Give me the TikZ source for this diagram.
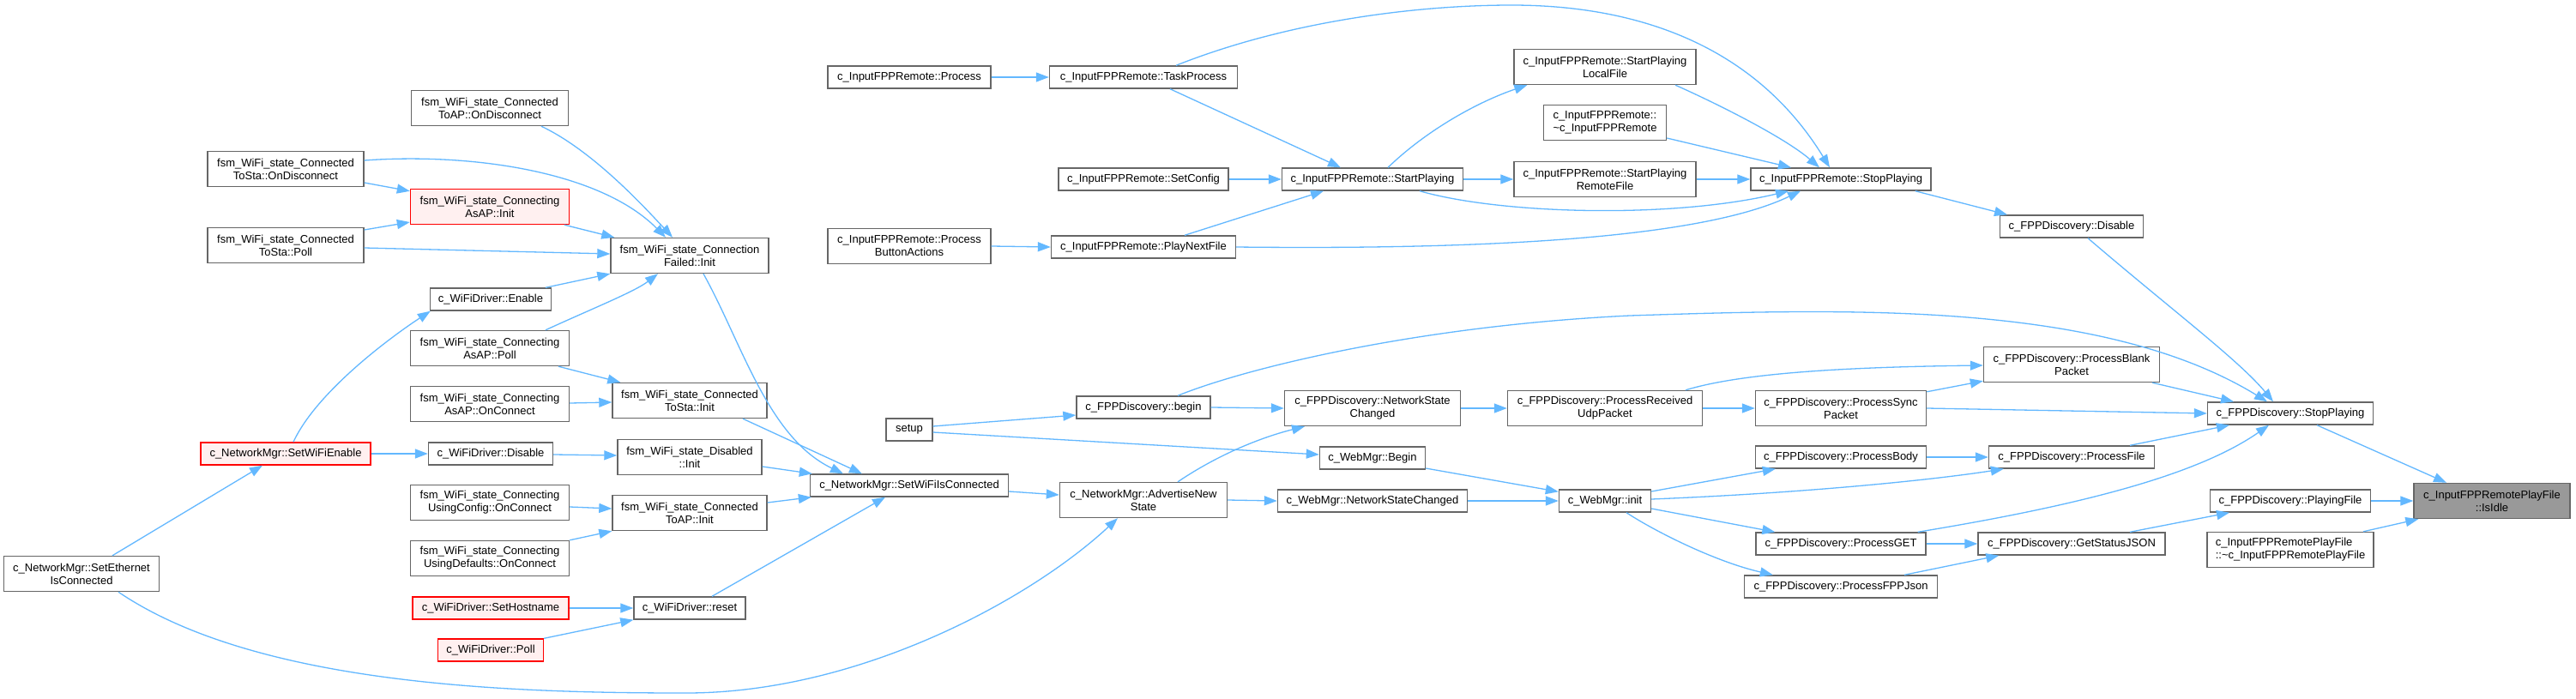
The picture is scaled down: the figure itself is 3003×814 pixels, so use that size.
\documentclass[tikz,border=0pt]{standalone}
\usepackage{fontspec}
\setmainfont{Liberation Sans}
\usetikzlibrary{arrows.meta,calc}
\definecolor{edgeblue}{HTML}{63B8FF}
\definecolor{boxgray}{HTML}{666666}
\definecolor{redfill}{HTML}{FFF0F0}
\definecolor{rootfill}{HTML}{999999}
\begin{document}
\begin{tikzpicture}[x=1pt,y=-1pt,
  fn/.style={draw=boxgray, fill=white, line width=1.4pt, align=center, inner xsep=3pt, inner ysep=0pt, font=\fontsize{13}{15}\selectfont, minimum height=26pt},
  two/.style={minimum height=41pt},
  redfn/.style={draw=red, fill=redfill},
  rootfn/.style={fill=rootfill},
  call/.style={draw=edgeblue, line width=1.3pt, -{Triangle[length=15pt,width=11pt]}},
]
\useasboundingbox[fill=white] (0,0) rectangle (3003,814);
% nodes
\node[fn,two,minimum width=181pt] (SetEth) at (95,669) {c\_NetworkMgr::SetEthernet\\IsConnected};
\node[fn,two,minimum width=182pt] (TSOD) at (333,197) {fsm\_WiFi\_state\_Connected\\ToSta::OnDisconnect};
\node[fn,two,minimum width=182pt] (TSPoll) at (333,286) {fsm\_WiFi\_state\_Connected\\ToSta::Poll};
\node[fn,redfn,minimum width=198pt] (SWE) at (333,529) {c\_NetworkMgr::SetWiFiEnable};
\node[fn,two,minimum width=183pt] (TAOD) at (571,126) {fsm\_WiFi\_state\_Connected\\ToAP::OnDisconnect};
\node[fn,two,redfn,minimum width=185pt] (AAInit) at (571,241) {fsm\_WiFi\_state\_Connecting\\AsAP::Init};
\node[fn,minimum width=141pt] (Enable) at (572,349) {c\_WiFiDriver::Enable};
\node[fn,two,minimum width=185pt] (AAPoll) at (571,406) {fsm\_WiFi\_state\_Connecting\\AsAP::Poll};
\node[fn,two,minimum width=185pt] (AAOnConn) at (571,471) {fsm\_WiFi\_state\_Connecting\\AsAP::OnConnect};
\node[fn,minimum width=145pt] (WDDisable) at (572,529) {c\_WiFiDriver::Disable};
\node[fn,two,minimum width=185pt] (UCOnConn) at (571,586) {fsm\_WiFi\_state\_Connecting\\UsingConfig::OnConnect};
\node[fn,two,minimum width=185pt] (UDOnConn) at (571,651) {fsm\_WiFi\_state\_Connecting\\UsingDefaults::OnConnect};
\node[fn,redfn,minimum width=182pt] (SetHost) at (572,709) {c\_WiFiDriver::SetHostname};
\node[fn,redfn,minimum width=123pt] (WDPoll) at (572,758) {c\_WiFiDriver::Poll};
\node[fn,two,minimum width=184pt] (CFInit) at (804,298) {fsm\_WiFi\_state\_Connection\\Failed::Init};
\node[fn,two,minimum width=180pt] (TSInit) at (804,467) {fsm\_WiFi\_state\_Connected\\ToSta::Init};
\node[fn,two,minimum width=168pt] (DisInit) at (804,533) {fsm\_WiFi\_state\_Disabled\\::Init};
\node[fn,two,minimum width=180pt] (TAInit) at (804,598) {fsm\_WiFi\_state\_Connected\\ToAP::Init};
\node[fn,minimum width=130pt] (reset) at (804,709) {c\_WiFiDriver::reset};
\node[fn,minimum width=190pt] (Process) at (1060,90) {c\_InputFPPRemote::Process};
\node[fn,two,minimum width=190pt] (PBA) at (1060,287) {c\_InputFPPRemote::Process\\ButtonActions};
\node[fn,minimum width=54pt] (setup) at (1060,501) {setup};
\node[fn,minimum width=231pt] (SWIC) at (1060,566) {c\_NetworkMgr::SetWiFiIsConnected};
\node[fn,minimum width=219pt] (TaskProc) at (1333,90) {c\_InputFPPRemote::TaskProcess};
\node[fn,minimum width=198pt] (SetConfig) at (1333,209) {c\_InputFPPRemote::SetConfig};
\node[fn,minimum width=215pt] (PlayNext) at (1333,288) {c\_InputFPPRemote::PlayNextFile};
\node[fn,minimum width=156pt] (begin) at (1333,475) {c\_FPPDiscovery::begin};
\node[fn,two,minimum width=195pt] (AdvNew) at (1333,583) {c\_NetworkMgr::AdvertiseNew\\State};
\node[fn,minimum width=211pt] (StartPl) at (1600,209) {c\_InputFPPRemote::StartPlaying};
\node[fn,two,minimum width=205pt] (NSC) at (1600,476) {c\_FPPDiscovery::NetworkState\\Changed};
\node[fn,minimum width=123pt] (WMBegin) at (1600,534) {c\_WebMgr::Begin};
\node[fn,minimum width=221pt] (WMNSC) at (1600,584) {c\_WebMgr::NetworkStateChanged};
\node[fn,two,minimum width=212pt] (LocalF) at (1871,78) {c\_InputFPPRemote::StartPlaying\\LocalFile};
\node[fn,two,align=left,minimum width=143pt] (DtorIFR) at (1871,143) {c\_InputFPPRemote::\\\textasciitilde c\_InputFPPRemote};
\node[fn,two,minimum width=212pt] (RemoteF) at (1871,209) {c\_InputFPPRemote::StartPlaying\\RemoteFile};
\node[fn,two,minimum width=227pt] (PRUP) at (1871,476) {c\_FPPDiscovery::ProcessReceived\\UdpPacket};
\node[fn,minimum width=107pt] (init) at (1871,584) {c\_WebMgr::init};
\node[fn,minimum width=210pt] (IFRStop) at (2146,209) {c\_InputFPPRemote::StopPlaying};
\node[fn,two,minimum width=199pt] (PSync) at (2146,476) {c\_FPPDiscovery::ProcessSync\\Packet};
\node[fn,minimum width=199pt] (PBody) at (2146,533) {c\_FPPDiscovery::ProcessBody};
\node[fn,minimum width=198pt] (PGET) at (2146,634) {c\_FPPDiscovery::ProcessGET};
\node[fn,minimum width=225pt] (PJson) at (2146,684) {c\_FPPDiscovery::ProcessFPPJson};
\node[fn,minimum width=167pt] (FDisable) at (2415,264) {c\_FPPDiscovery::Disable};
\node[fn,two,minimum width=205pt] (PBlank) at (2415,425) {c\_FPPDiscovery::ProcessBlank\\Packet};
\node[fn,minimum width=193pt] (PFile) at (2415,533) {c\_FPPDiscovery::ProcessFile};
\node[fn,minimum width=218pt] (GSJ) at (2415,634) {c\_FPPDiscovery::GetStatusJSON};
\node[fn,minimum width=193pt] (FStop) at (2670,482) {c\_FPPDiscovery::StopPlaying};
\node[fn,minimum width=187pt] (PlayingF) at (2670,584) {c\_FPPDiscovery::PlayingFile};
\node[fn,two,align=left,minimum width=194pt] (DtorPF) at (2670,641) {c\_InputFPPRemotePlayFile\\::\textasciitilde c\_InputFPPRemotePlayFile};
\node[fn,two,rootfn,minimum width=182pt] (IsIdle) at (2905,584) {c\_InputFPPRemotePlayFile\\::IsIdle};
% edges
\draw[call] ($(FStop.south)+(31,0)$) -- ($(IsIdle.north)+(-53,0)$);
\draw[call] (PlayingF.east) -- (IsIdle.west);
\draw[call] ($(DtorPF.north)+(85,0)$) -- ($(IsIdle.south west)+(6,0)$);
\draw[call] ($(GSJ.north)+(68,0)$) -- ($(PlayingF.south)+(-71,0)$);
\draw[call] ($(PBlank.south)+(94,0)$) -- ($(FStop.north)+(-66,0)$);
\draw[call] (PSync.east) -- (FStop.west);
\draw[call] ($(PFile.north)+(68,0)$) -- ($(FStop.south)+(-71,0)$);
\draw[call] ($(PGET.north east)+(-10,0)$) .. controls (2420,590) and (2560,555) .. ($(FStop.south)+(-25,0)$);
\draw[call] ($(IFRStop.south east)+(-19,0)$) -- ($(FDisable.north)+(-75,0)$);
\draw[call] ($(begin.north)+(40,0)$) .. controls (1450,430) and (1650,380) .. (1900,368) .. controls (2150,360) and (2450,350) .. ($(FStop.north)+(-27,0)$);
\draw[call] ($(FDisable.south)+(19,0)$) .. controls (2530,360) and (2610,420) .. ($(FStop.north)+(-20,0)$);
\draw[call] (begin.east) -- (NSC.west);
\draw[call] ($(setup.east)+(0,-4)$) -- ($(begin.west)+(0,9)$);
\draw[call] ($(setup.east)+(0,3)$) -- ($(WMBegin.west)+(0,-4)$);
\draw[call] ($(AdvNew.north)+(40,0)$) .. controls (1420,530) and (1470,510) .. ($(NSC.south)+(-79,0)$);
\draw[call] (AdvNew.east) -- (WMNSC.west);
\draw[call] ($(SWIC.east)+(0,7)$) -- ($(AdvNew.west)+(0,-6)$);
\draw[call] ($(SetEth.south)+(43,0)$) .. controls (300,800) and (600,808) .. (800,808) .. controls (1000,808) and (1200,700) .. ($(AdvNew.south)+(-30,0)$);
\draw[call] ($(SetEth.north)+(36,0)$) -- ($(SWE.south)+(-27,0)$);
\draw[call] (SWE.east) -- (WDDisable.west);
\draw[call] ($(SWE.north)+(9,0)$) .. controls (370,455) and (460,390) .. ($(Enable.south west)+(1,0)$);
\draw[call] ($(Enable.north)+(64,0)$) -- (CFInit.south west);
\draw[call] ($(AAPoll.north)+(65,0)$) .. controls (690,360) and (740,340) .. ($(CFInit.south)+(-37,0)$);
\draw[call] ($(TAOD.south)+(60,0)$) .. controls (690,175) and (750,240) .. ($(CFInit.north)+(-20,0)$);
\draw[call] ($(TSOD.east)+(0,-10)$) .. controls (550,178) and (700,200) .. ($(CFInit.north)+(-28,0)$);
\draw[call] ($(TSOD.east)+(0,16)$) -- ($(AAInit.north west)+(0,3)$);
\draw[call] ($(TSPoll.east)+(0,-18)$) -- ($(AAInit.west)+(0,18)$);
\draw[call] ($(TSPoll.east)+(0,3)$) -- ($(CFInit.west)+(0,-2)$);
\draw[call] ($(AAInit.south)+(87,0)$) -- ($(CFInit.north west)+(5,0)$);
\draw[call] ($(CFInit.south)+(16,0)$) .. controls (865,400) and (895,510) .. ($(SWIC.north)+(-77,0)$);
\draw[call] ($(TSInit.south)+(62,0)$) -- ($(SWIC.north)+(-55,0)$);
\draw[call] ($(DisInit.east)+(0,11)$) -- ($(SWIC.north west)+(3,0)$);
\draw[call] ($(TAInit.east)+(0,-12)$) -- ($(SWIC.south west)+(2,0)$);
\draw[call] ($(reset.north)+(26,0)$) -- ($(SWIC.south)+(-28,0)$);
\draw[call] ($(AAOnConn.east)+(0,-1)$) -- ($(TSInit.west)+(0,2)$);
\draw[call] ($(AAPoll.south)+(80,0)$) -- ($(TSInit.north west)+(10,0)$);
\draw[call] ($(WDDisable.east)+(0,1)$) -- ($(DisInit.west)+(0,-2)$);
\draw[call] ($(UCOnConn.east)+(0,5)$) -- ($(TAInit.west)+(0,-5)$);
\draw[call] (UDOnConn.north east) -- (TAInit.south west);
\draw[call] (SetHost.east) -- (reset.west);
\draw[call] (WDPoll.north east) -- (reset.south west);
\draw[call] (Process.east) -- (TaskProc.west);
\draw[call] ($(TaskProc.south)+(31,0)$) -- ($(StartPl.north)+(-37,0)$);
\draw[call] ($(TaskProc.north)+(38,0)$) .. controls (1500,25) and (1650,6) .. (1762,6) .. controls (1920,6) and (2050,60) .. ($(IFRStop.north)+(-13,0)$);
\draw[call] (SetConfig.east) -- (StartPl.west);
\draw[call] ($(PlayNext.north)+(48,0)$) -- ($(StartPl.south)+(-57,0)$);
\draw[call] (PlayNext.east) .. controls (1800,292) and (2000,270) .. ($(IFRStop.south)+(-47,0)$);
\draw[call] (PBA.east) -- (PlayNext.west);
\draw[call] ($(StartPl.north)+(18,0)$) .. controls (1665,150) and (1725,118) .. ($(LocalF.south west)+(16,0)$);
\draw[call] (StartPl.east) -- (RemoteF.west);
\draw[call] ($(StartPl.south)+(55,0)$) .. controls (1750,250) and (1950,255) .. ($(IFRStop.south)+(-61,0)$);
\draw[call] ($(LocalF.south)+(82,0)$) .. controls (2000,120) and (2080,160) .. ($(IFRStop.north)+(-25,0)$);
\draw[call] ($(DtorIFR.east)+(0,18)$) -- ($(IFRStop.north)+(-58,0)$);
\draw[call] (RemoteF.east) -- (IFRStop.west);
\draw[call] (NSC.east) -- (PRUP.west);
\draw[call] (PRUP.east) -- (PSync.west);
\draw[call] ($(PRUP.north)+(94,0)$) .. controls (2030,435) and (2150,428) .. ($(PBlank.west)+(0,1)$);
\draw[call] ($(PSync.north east)+(0,2)$) -- ($(PBlank.south west)+(0,-2)$);
\draw[call] ($(WMBegin.east)+(0,12)$) -- ($(init.north west)+(0,3)$);
\draw[call] (WMNSC.east) -- (init.west);
\draw[call] ($(init.east)+(0,-11)$) -- ($(PBody.south west)+(24,0)$);
\draw[call] ($(init.east)+(0,-2)$) .. controls (2100,575) and (2250,560) .. ($(PFile.south west)+(18,0)$);
\draw[call] ($(init.east)+(0,9)$) -- ($(PGET.north west)+(23,0)$);
\draw[call] ($(init.south)+(25,0)$) .. controls (1930,620) and (2000,655) .. ($(PJson.north west)+(34,0)$);
\draw[call] (PBody.east) -- (PFile.west);
\draw[call] (PGET.east) -- (GSJ.west);
\draw[call] ($(PJson.north)+(74,0)$) -- ($(GSJ.south west)+(25,0)$);
\end{tikzpicture}
\end{document}
